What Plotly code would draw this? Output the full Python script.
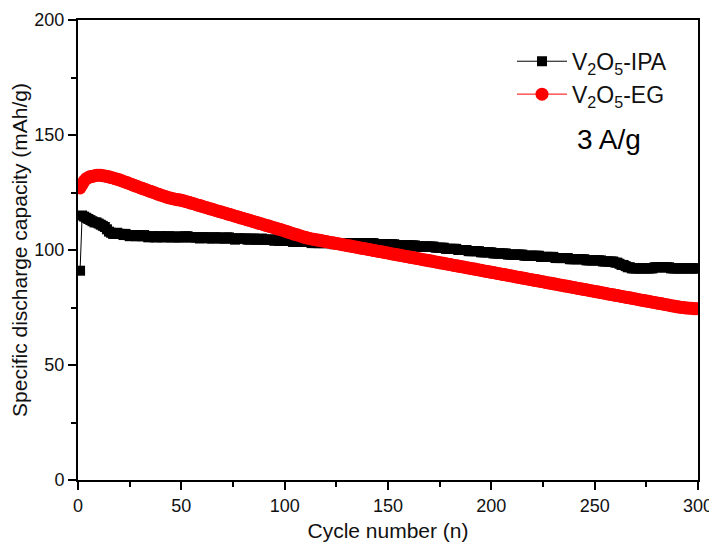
import plotly.graph_objects as go

cycles = list(range(1, 301))

ipa_capacity = [
    91, 115, 114.5, 114, 113.5, 113, 112.5, 112, 112, 111.5,
    111, 110.5, 110, 109, 108, 107.5, 107, 107, 107.5, 107,
    107, 106.5, 107, 106.5, 106, 106.5, 106.5, 106, 106.5, 106,
    106, 106.5, 106, 105.5, 106, 106, 105.5, 105.5, 106, 106,
    105.5, 105.5, 106, 106, 105.5, 105.5, 105.5, 106, 105.5, 105.5,
    105.5, 106, 106, 105.5, 105.5, 105.5, 105.5, 105.5, 105, 105.5,
    105.5, 105.5, 105.5, 105, 105, 105.5, 105.5, 105.5, 105, 105,
    105, 105.5, 105.5, 105, 105, 104.5, 105, 105, 105, 105,
    105, 104.5, 104.5, 105, 105, 104.5, 104.5, 104.5, 105, 104.5,
    104.5, 104.5, 104.5, 104.5, 104, 104.5, 104, 104, 104, 104,
    104, 104, 104, 103.5, 104, 103.5, 103.5, 103.5, 103.5, 103.5,
    103.5, 103.5, 103, 103.5, 103, 103, 103, 103, 103, 103,
    103, 103, 103, 102.5, 103, 103, 102.5, 102.5, 102.5, 102.5,
    103, 103, 103, 103, 103, 102.5, 102.5, 103, 103, 103,
    103, 103, 103, 102.5, 102.5, 102.5, 102.5, 102.5, 102.5, 102.5,
    102.5, 102.5, 102.5, 102, 102, 102, 102, 102, 102, 102,
    102, 102, 102, 101.5, 101.5, 101.5, 101.5, 101.5, 101.5, 101.5,
    101.5, 101.5, 101, 101, 101, 101, 101, 100.5, 100.5, 100.5,
    100.5, 100.5, 100.5, 100, 100, 100, 100, 100, 99.5, 99.5,
    99.5, 99.5, 99.5, 99.5, 99, 99, 99, 99, 99, 99,
    98.5, 98.5, 98.5, 98.5, 98.5, 98.5, 98.5, 98, 98, 98,
    98, 98, 98, 98, 98, 97.5, 97.5, 97.5, 97.5, 97.5,
    97.5, 97.5, 97.5, 97, 97, 97, 97, 97, 97, 97,
    96.5, 96.5, 96.5, 96.5, 96.5, 96.5, 96.5, 96, 96, 96,
    96, 96, 96, 96, 96, 95.5, 95.5, 95.5, 95.5, 95.5,
    95.5, 95.5, 95.5, 95, 95, 95, 95, 95, 95, 94.5,
    94.5, 94, 93.5, 93.5, 93, 92.5, 92.5, 92, 92, 92,
    92, 92, 92, 92, 92, 92, 92, 92, 92.5, 92.5,
    92.5, 92.5, 92.5, 92.5, 92.5, 92.5, 92, 92, 92, 92,
    92, 92, 92, 92, 92, 92, 92, 92, 92, 92,
]

eg_capacity = [
    127, 128.5, 130, 131, 131.5, 132, 132, 132.3, 132.5, 132.5,
    132.5, 132.3, 132.2, 132, 131.8, 131.5, 131.3, 131, 130.8, 130.5,
    130.2, 129.8, 129.5, 129.2, 128.8, 128.5, 128.1, 127.8, 127.5, 127.1,
    126.8, 126.5, 126.2, 125.8, 125.5, 125.2, 124.9, 124.5, 124.2, 123.9,
    123.6, 123.3, 123, 122.7, 122.5, 122.3, 122.1, 121.9, 121.8, 121.6,
    121.4, 121.1, 120.9, 120.6, 120.3, 120.1, 119.8, 119.5, 119.3, 119,
    118.7, 118.5, 118.2, 117.9, 117.7, 117.4, 117.1, 116.9, 116.6, 116.3,
    116.1, 115.8, 115.5, 115.3, 115, 114.7, 114.5, 114.2, 113.9, 113.7,
    113.4, 113.1, 112.9, 112.6, 112.3, 112.1, 111.8, 111.5, 111.3, 111,
    110.7, 110.5, 110.2, 109.9, 109.7, 109.4, 109.1, 108.9, 108.6, 108.3,
    108, 107.7, 107.4, 107.1, 106.8, 106.6, 106.3, 106, 105.7, 105.5,
    105.2, 105, 104.8, 104.7, 104.5, 104.3, 104.2, 104, 103.8, 103.7,
    103.5, 103.3, 103.2, 103, 102.8, 102.7, 102.5, 102.3, 102.2, 102,
    101.8, 101.7, 101.5, 101.3, 101.2, 101, 100.8, 100.7, 100.5, 100.3,
    100.2, 100, 99.8, 99.7, 99.5, 99.3, 99.2, 99, 98.8, 98.7,
    98.5, 98.3, 98.2, 98, 97.8, 97.7, 97.5, 97.3, 97.2, 97,
    96.8, 96.7, 96.5, 96.3, 96.2, 96, 95.8, 95.7, 95.5, 95.3,
    95.2, 95, 94.8, 94.7, 94.5, 94.3, 94.2, 94, 93.8, 93.7,
    93.5, 93.3, 93.2, 93, 92.8, 92.7, 92.5, 92.3, 92.2, 92,
    91.8, 91.7, 91.5, 91.3, 91.2, 91, 90.8, 90.7, 90.5, 90.3,
    90.2, 90, 89.8, 89.7, 89.5, 89.3, 89.2, 89, 88.8, 88.7,
    88.5, 88.3, 88.2, 88, 87.8, 87.7, 87.5, 87.3, 87.2, 87,
    86.8, 86.7, 86.5, 86.3, 86.2, 86, 85.8, 85.7, 85.5, 85.3,
    85.2, 85, 84.8, 84.7, 84.5, 84.3, 84.2, 84, 83.8, 83.7,
    83.5, 83.3, 83.2, 83, 82.8, 82.7, 82.5, 82.3, 82.2, 82,
    81.8, 81.7, 81.5, 81.3, 81.2, 81, 80.8, 80.7, 80.5, 80.3,
    80.2, 80, 79.8, 79.7, 79.5, 79.3, 79.2, 79, 78.8, 78.7,
    78.5, 78.3, 78.2, 78, 77.8, 77.7, 77.5, 77.3, 77.2, 77,
    76.8, 76.7, 76.5, 76.3, 76.2, 76, 75.8, 75.7, 75.5, 75.3,
    75.2, 75, 75, 74.8, 74.8, 74.7, 74.7, 74.5, 74.5, 74.5,
]

series_names = ["V<sub>2</sub>O<sub>5</sub>-IPA", "V<sub>2</sub>O<sub>5</sub>-EG"]
x_ticks = [0, 50, 100, 150, 200, 250, 300]
y_ticks = [0, 50, 100, 150, 200]

FONT = "Arial, Liberation Sans, sans-serif"

fig = go.Figure()
fig.add_trace(go.Scatter(
    x=cycles, y=ipa_capacity, name=series_names[0],
    mode="lines+markers",
    line=dict(color="black", width=1),
    marker=dict(symbol="square", size=10, color="black", line=dict(width=0)),
))
fig.add_trace(go.Scatter(
    x=cycles, y=eg_capacity, name=series_names[1],
    mode="lines+markers",
    line=dict(color="#ff0000", width=1),
    marker=dict(symbol="circle", size=13, color="#ff0000", line=dict(width=0)),
))

axis_common = dict(
    showgrid=False, zeroline=False, automargin=False,
    showline=True, linecolor="black", linewidth=2, mirror=True,
    ticks="outside", ticklen=8, tickwidth=1.5, tickcolor="black",
    tickfont=dict(family=FONT, size=18, color="#111"),
)

fig.update_xaxes(
    range=[0, 300], tickvals=x_ticks,
    minor=dict(ticks="outside", dtick=25, tick0=0, ticklen=5, tickwidth=1.5, tickcolor="black"),
    title=dict(text="Cycle number (n)", font=dict(family=FONT, size=21, color="#111"), standoff=9),
    **axis_common,
)
fig.update_yaxes(
    range=[0, 200], tickvals=y_ticks,
    minor=dict(ticks="outside", dtick=25, tick0=0, ticklen=5, tickwidth=1.5, tickcolor="black"),
    title=dict(text="Specific discharge capacity (mAh/g)", font=dict(family=FONT, size=21, color="#111"), standoff=4),
    **axis_common,
)

fig.add_annotation(
    x=0.856, y=0.741, xref="paper", yref="paper",
    xanchor="center", yanchor="middle",
    text="3 A/g", showarrow=False,
    font=dict(family=FONT, size=28, color="black"),
)

# the page body adds an 8px margin, so the figure is sized to end at the window edge
fig.update_layout(
    width=709, height=536,
    margin=dict(l=70, r=19, t=12, b=64),
    paper_bgcolor="white", plot_bgcolor="white",
    legend=dict(
        x=0.70, y=0.957, xanchor="left", yanchor="top",
        font=dict(family=FONT, size=23, color="#111"),
        bgcolor="rgba(0,0,0,0)", borderwidth=0,
        tracegroupgap=0, itemwidth=50,
    ),
)

fig.write_html("out.html")
